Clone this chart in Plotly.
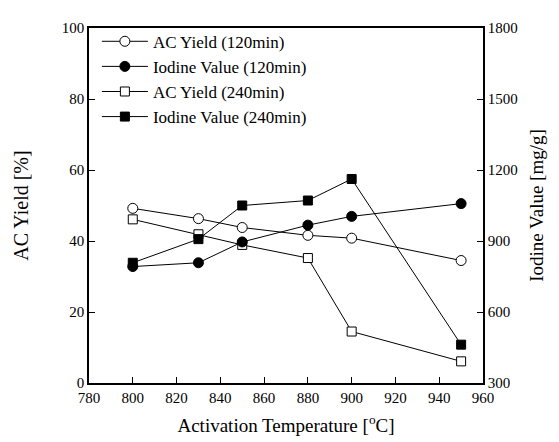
import plotly.graph_objects as go

temps = [800, 830, 850, 880, 900, 950]
ac_yield_120 = [49.2, 46.3, 43.8, 41.6, 40.8, 34.5]
iodine_120 = [792, 808, 896, 967, 1004, 1058]
ac_yield_240 = [46.1, 41.9, 38.9, 35.2, 14.5, 6.1]
iodine_240 = [808, 908, 1050, 1071, 1162, 462]

x_ticks = list(range(780, 961, 20))
y_ticks = list(range(0, 101, 20))
y2_ticks = list(range(300, 1801, 300))

FONT = "Liberation Serif"
black = "black"

fig = go.Figure()
fig.add_trace(go.Scatter(
    x=temps, y=ac_yield_120, name="AC Yield (120min)", mode="lines+markers",
    line=dict(color=black, width=1),
    marker=dict(symbol="circle", size=10, color="white", line=dict(color=black, width=1)),
))
fig.add_trace(go.Scatter(
    x=temps, y=iodine_120, name="Iodine Value (120min)", mode="lines+markers", yaxis="y2",
    line=dict(color=black, width=1),
    marker=dict(symbol="circle", size=10, color=black, line=dict(color=black, width=1)),
))
fig.add_trace(go.Scatter(
    x=temps, y=ac_yield_240, name="AC Yield (240min)", mode="lines+markers",
    line=dict(color=black, width=1),
    marker=dict(symbol="square", size=9, color="white", line=dict(color=black, width=1)),
))
fig.add_trace(go.Scatter(
    x=temps, y=iodine_240, name="Iodine Value (240min)", mode="lines+markers", yaxis="y2",
    line=dict(color=black, width=1),
    marker=dict(symbol="square", size=9, color=black, line=dict(color=black, width=1)),
))

fig.update_layout(
    width=559, height=442,
    margin=dict(l=78, r=84, t=15, b=67),
    paper_bgcolor="white", plot_bgcolor="white",
    font=dict(family=FONT, size=15, color=black),
    showlegend=True,
    legend=dict(x=0.02, y=1.012, xanchor="left", yanchor="top",
                bgcolor="rgba(0,0,0,0)", font=dict(family=FONT, size=17),
                tracegroupgap=0, itemwidth=46),
    xaxis=dict(
        range=[780, 960], tickvals=x_ticks, ticks="inside", ticklen=6,
        tickcolor=black, showline=True, linecolor=black, linewidth=1.5,
        mirror=True, showgrid=False, zeroline=False,
        tickfont=dict(size=15),
        title=dict(text="Activation Temperature [<sup>o</sup>C]", font=dict(size=19), standoff=14),
    ),
    yaxis=dict(
        range=[0, 100], tickvals=y_ticks, ticks="inside", ticklen=6,
        tickcolor=black, showline=True, linecolor=black, linewidth=1.5,
        showgrid=False, zeroline=False, tickfont=dict(size=15),
        title=dict(text="AC Yield [%]", font=dict(size=20), standoff=28),
    ),
    yaxis2=dict(
        range=[300, 1800], tickvals=y2_ticks, ticks="inside", ticklen=6,
        tickcolor=black, showline=True, linecolor=black, linewidth=1.5,
        overlaying="y", side="right", showgrid=False, zeroline=False,
        tickfont=dict(size=15),
        title=dict(text="Iodine Value [mg/g]", font=dict(size=19), standoff=13),
    ),
)

fig.write_html("out.html")
